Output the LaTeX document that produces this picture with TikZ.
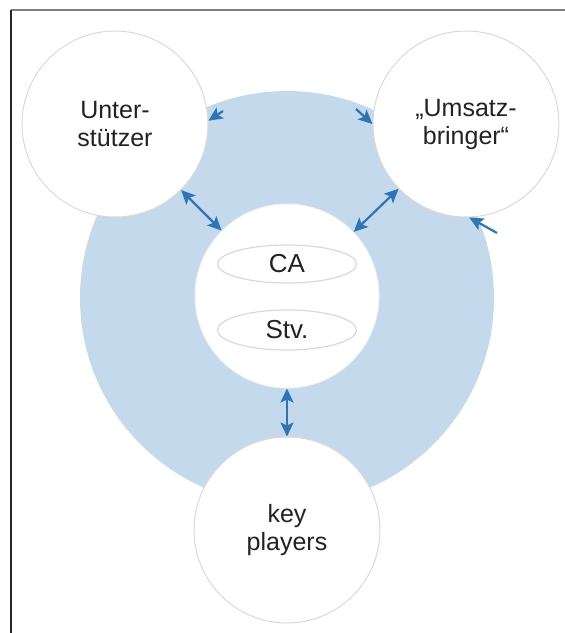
\documentclass[tikz,border=0pt]{standalone}
\usepackage{fontspec}
\setmainfont{Liberation Sans}
\usetikzlibrary{arrows.meta,shapes.geometric}
\definecolor{ringblue}{RGB}{197,217,237}
\definecolor{arrowblue}{RGB}{46,117,182}
\definecolor{rimgray}{RGB}{217,217,217}
\definecolor{textgray}{RGB}{34,34,34}
\tikzset{
	person/.style={circle, draw=rimgray, line width=1pt, fill=white, minimum size=186pt, inner sep=0pt, align=center, text=textgray, font=\fontsize{25}{28}\selectfont},
	role/.style={ellipse, draw=rimgray, line width=1.2pt, minimum width=139pt, minimum height=38pt, inner sep=0pt, text=textgray, font=\fontsize{26}{28}\selectfont},
	link/.style={draw=arrowblue, line width=2.2pt, {Stealth[length=14pt,width=13pt,inset=3pt]}-{Stealth[length=14pt,width=13pt,inset=3pt]}},
	push/.style={draw=arrowblue, line width=2.2pt, -{Stealth[length=14pt,width=13pt,inset=3pt]}}
}

\begin{document}
\begin{tikzpicture}[x=1pt,y=-1pt]
			\useasboundingbox (0,0) rectangle (565,633);
			%%%%% START %%%%%
			\draw[draw=black!50, line width=2pt] (565,10) -- (11,10);
			\draw[draw=black!85, line width=1.5pt] (11,10) -- (11,633);
			
			\fill[ringblue] (287,298) circle (207pt);
			
			\node[person, draw=black!5, minimum size=184pt] (ctr) at (287,296) {};
			\node[role] (ca) at (287,264) {CA};
			\node[role, minimum height=40pt] (stv) at (287,330) {Stv.};
			
			\node[person] (unter) at (115,124) {Unter-\\stützer};
			\node[person] (umsatz) at (466,124) {„Umsatz-\\bringer“};
			\node[person] (key) at (287,530) {key\\players};
			
			\draw[link] (unter) -- (ctr);
			\draw[link] (umsatz) -- (ctr);
			\draw[link] (ctr) -- (key);
			
			\coordinate (pushL) at (223,111);
			\coordinate (pushR) at (356,109);
			\coordinate (pushB) at (497,233);
			\draw[push] (pushL) -- (unter.2);
			\draw[push] (pushR) -- (umsatz.180);
			\draw[push] (pushB) -- (umsatz.-88);
			%%%%% END %%%%%
\end{tikzpicture}
\end{document}
